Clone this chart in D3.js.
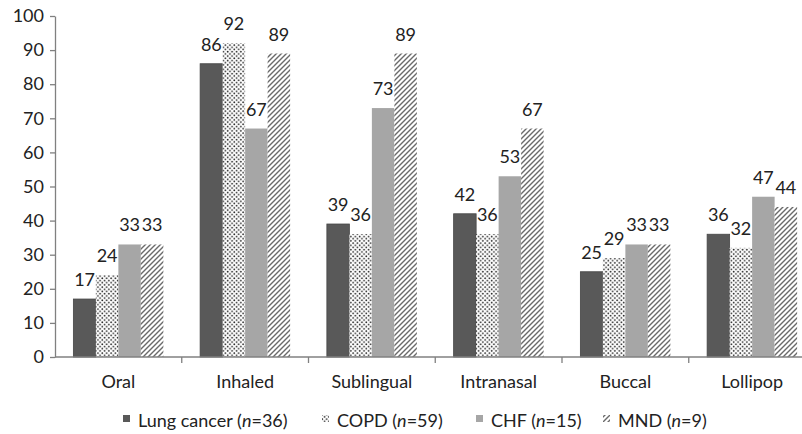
<!DOCTYPE html>
<html><head><meta charset="utf-8">
<script src="https://cdn.jsdelivr.net/npm/d3@7"></script>
<style>body{margin:0;background:#fff}svg{display:block}text{font-family:Lato,"Open Sans",sans-serif;fill:#222}</style>
</head><body><svg id="c" width="802" height="434"></svg>
<script>
const categories = ["Oral","Inhaled","Sublingual","Intranasal","Buccal","Lollipop"];
const seriesNames = ["Lung cancer","COPD","CHF","MND"];
const seriesN = [36,59,15,9];
const lungCancer = [17,86,39,42,25,36];
const copd = [24,92,36,36,29,32];
const chf = [33,67,73,53,33,47];
const mnd = [33,89,89,67,33,44];
const yTicks = [0,10,20,30,40,50,60,70,80,90,100];

(function(){
const values = [lungCancer, copd, chf, mnd];
const svg = d3.select("#c");
const defs = svg.append("defs");
const dots = defs.append("pattern").attr("id","dots").attr("patternUnits","userSpaceOnUse").attr("width",4.4).attr("height",4.4);
dots.append("rect").attr("width",4.4).attr("height",4.4).attr("fill","#fff");
dots.append("circle").attr("cx",1.1).attr("cy",1.1).attr("r",0.9).attr("fill","#2a2a2a");
dots.append("circle").attr("cx",3.3).attr("cy",3.3).attr("r",0.9).attr("fill","#2a2a2a");
const hatch = defs.append("pattern").attr("id","hatch").attr("patternUnits","userSpaceOnUse").attr("width",5).attr("height",5);
hatch.append("rect").attr("width",5).attr("height",5).attr("fill","#fff");
hatch.append("path").attr("d","M0,5L5,0M-1,1L1,-1M4,6L6,4").attr("stroke","#6a6a6a").attr("stroke-width",1.4);

const fills = ["#595959","url(#dots)","#a6a6a6","url(#hatch)"];
const strokes = ["#464646","none","none","none"];
const fs = "18px";

const mLeft = 55, mBottom = 357, mTop = 16;
const step = 126.75;
const x0 = d3.scaleBand().domain(categories).range([mLeft, mLeft + step*categories.length]).padding(0);
const x1 = d3.scaleBand().domain(seriesNames).range([0.145*x0.bandwidth(), 0.855*x0.bandwidth()]).padding(0);
const y = d3.scaleLinear().domain([0,100]).range([mBottom, mTop]);

// y axis
const ya = svg.append("g").attr("transform",`translate(${mLeft},0)`)
  .call(d3.axisLeft(y).tickValues(yTicks).tickSize(5).tickPadding(6).tickSizeOuter(0));
ya.select(".domain").attr("stroke","#808080").attr("stroke-width",1.3);
ya.selectAll(".tick line").attr("stroke","#808080").attr("stroke-width",1.3);
ya.selectAll(".tick text").attr("font-size",fs).attr("fill","#222").style("font-family","Lato");

// bars
const g = svg.append("g");
categories.forEach((c,ci)=>{
  seriesNames.forEach((s,si)=>{
    const v = values[si][ci];
    g.append("rect").attr("x", x0(c)+x1(s)).attr("y", y(v)).attr("width", x1.bandwidth()).attr("height", y(0)-y(v))
      .attr("fill", fills[si]).attr("stroke", strokes[si]).attr("stroke-width",0.8);
    g.append("text").attr("x", x0(c)+x1(s)+x1.bandwidth()/2).attr("y", y(v)-13)
      .attr("text-anchor","middle").attr("font-size",fs).text(v);
  });
});

// x axis
const xa = svg.append("g").attr("transform",`translate(0,${mBottom})`);
xa.append("line").attr("x1",mLeft).attr("x2",x0.range()[1]).attr("y1",0).attr("y2",0).attr("stroke","#808080").attr("stroke-width",1.3);
categories.forEach((c,i)=>{
  if(i>0) xa.append("line").attr("x1",x0(c)).attr("x2",x0(c)).attr("y1",0).attr("y2",6).attr("stroke","#808080").attr("stroke-width",1.3);
  xa.append("text").attr("x", x0(c)+x0.bandwidth()/2).attr("y", 31).attr("text-anchor","middle").attr("font-size",fs).text(c);
});

// legend
const legX = [123, 322, 476, 603];
const leg = svg.append("g");
seriesNames.forEach((s,i)=>{
  leg.append("rect").attr("x",legX[i]).attr("y",415).attr("width",7).attr("height",7).attr("fill",fills[i]);
  const t = leg.append("text").attr("x",legX[i]+15).attr("y",427).attr("font-size",fs);
  t.append("tspan").text(s+" (");
  t.append("tspan").attr("font-style","italic").text("n");
  t.append("tspan").text("="+seriesN[i]+")");
});
})();
</script></body></html>
